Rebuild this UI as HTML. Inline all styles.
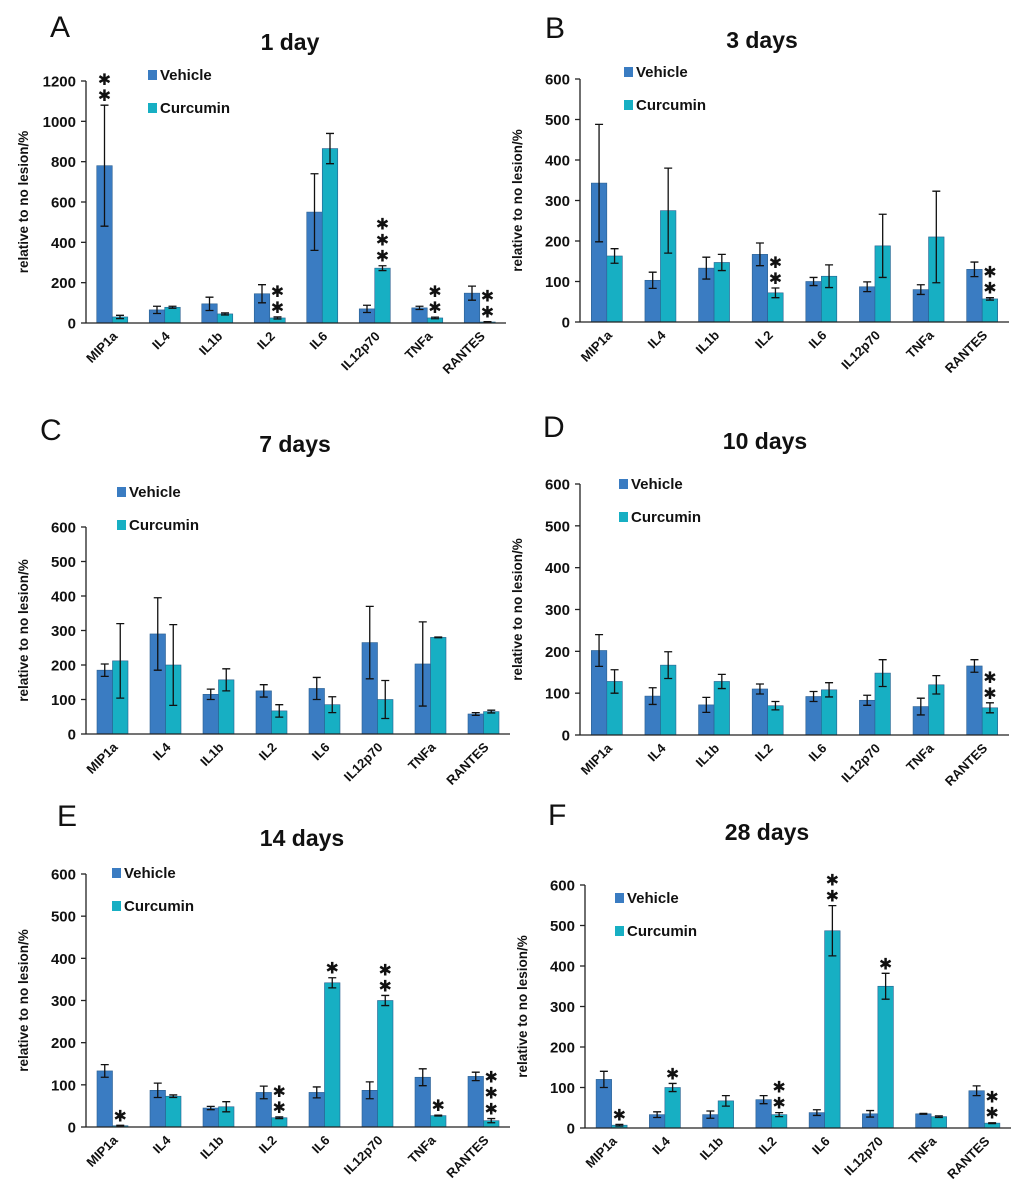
<!DOCTYPE html>
<html><head><meta charset="utf-8"><style>
html,body{margin:0;padding:0;background:#fff;}
svg{display:block;font-family:"Liberation Sans",Arial,sans-serif;}
</style></head><body>
<svg id="fig" width="1024" height="1200" viewBox="0 0 1024 1200"></svg>
<script>
const categories = ["MIP1a","IL4","IL1b","IL2","IL6","IL12p70","TNFa","RANTES"];
// Panel A – 1 day
const vehA = [780,65,95,145,550,70,75,148];
const vehErrA = [300,18,33,45,190,18,8,35];
const curA = [30,78,45,25,865,272,25,5];
const curErrA = [8,5,5,5,75,12,4,2];
const vStarsA = [2,0,0,0,0,0,0,0];
const cStarsA = [0,0,0,2,0,3,2,2];
// Panel B – 3 days
const vehB = [343,103,133,167,100,87,80,130];
const vehErrB = [145,20,27,28,10,12,12,18];
const curB = [163,275,147,72,113,188,210,57];
const curErrB = [18,105,20,12,28,78,113,3];
const vStarsB = [0,0,0,0,0,0,0,0];
const cStarsB = [0,0,0,2,0,0,0,2];
// Panel C – 7 days
const vehC = [185,290,115,125,132,265,203,58];
const vehErrC = [18,105,15,18,32,105,122,4];
const curC = [212,200,157,67,85,100,280,65];
const curErrC = [108,117,32,18,23,55,1,4];
const vStarsC = [0,0,0,0,0,0,0,0];
const cStarsC = [0,0,0,0,0,0,0,0];
// Panel D – 10 days
const vehD = [202,93,72,110,92,83,68,165];
const vehErrD = [38,20,18,12,12,12,20,15];
const curD = [128,167,128,70,108,148,120,65];
const curErrD = [28,32,17,10,17,32,22,12];
const vStarsD = [0,0,0,0,0,0,0,0];
const cStarsD = [0,0,0,0,0,0,0,2];
// Panel E – 14 days
const vehE = [133,87,45,82,82,87,118,120];
const vehErrE = [15,17,4,15,13,20,20,10];
const curE = [3,73,48,22,342,300,27,15];
const curErrE = [1,3,12,2,12,12,1,5];
const vStarsE = [0,0,0,0,0,0,0,0];
const cStarsE = [1,0,0,2,1,2,1,3];
// Panel F – 28 days
const vehF = [120,33,33,70,38,35,35,92];
const vehErrF = [20,7,9,10,7,8,1,12];
const curF = [7,100,67,33,487,350,28,12];
const curErrF = [2,10,13,5,62,32,2,1];
const vStarsF = [0,0,0,0,0,0,0,0];
const cStarsF = [1,1,0,2,2,1,0,2];
const ticksA = [0,200,400,600,800,1000,1200];
const ticks600 = [0,100,200,300,400,500,600];

const NS="http://www.w3.org/2000/svg";
const svg=document.getElementById('fig');
function el(tag,attrs,parent,text){
  const e=document.createElementNS(NS,tag);
  for(const k in attrs) e.setAttribute(k,attrs[k]);
  if(text!==undefined) e.textContent=text;
  (parent||svg).appendChild(e);
  return e;
}
const VCOL="#3a7cc2", CCOL="#17afc3";

const panels=[
 {id:"a",letter:"A",title:"1 day",lx:50,ly:37,tx:290,ty:50,x0:86,x1:506,y0:323,yT:81,max:1200,ticks:ticksA,leg:[148,70],vw:15.5,
  veh:vehA,ve:vehErrA,cur:curA,ce:curErrA,vs:vStarsA,cs:cStarsA},
 {id:"b",letter:"B",title:"3 days",lx:545,ly:38,tx:762,ty:48,x0:580,x1:1009,y0:322,yT:79,max:600,ticks:ticks600,leg:[624,67],vw:15.5,
  veh:vehB,ve:vehErrB,cur:curB,ce:curErrB,vs:vStarsB,cs:cStarsB},
 {id:"c",letter:"C",title:"7 days",lx:40,ly:440,tx:295,ty:452,x0:86,x1:510,y0:734,yT:527,max:600,ticks:ticks600,leg:[117,487],vw:15.5,
  veh:vehC,ve:vehErrC,cur:curC,ce:curErrC,vs:vStarsC,cs:cStarsC},
 {id:"d",letter:"D",title:"10 days",lx:543,ly:437,tx:765,ty:449,x0:580,x1:1009,y0:735,yT:484,max:600,ticks:ticks600,leg:[619,479],vw:15.5,
  veh:vehD,ve:vehErrD,cur:curD,ce:curErrD,vs:vStarsD,cs:cStarsD},
 {id:"e",letter:"E",title:"14 days",lx:57,ly:826,tx:302,ty:846,x0:86,x1:510,y0:1127,yT:874,max:600,ticks:ticks600,leg:[112,868],vw:15.5,
  veh:vehE,ve:vehErrE,cur:curE,ce:curErrE,vs:vStarsE,cs:cStarsE},
 {id:"f",letter:"F",title:"28 days",lx:548,ly:825,tx:767,ty:840,x0:585,x1:1011,y0:1128,yT:885,max:600,ticks:ticks600,leg:[615,893],vw:15.5,
  veh:vehF,ve:vehErrF,cur:curF,ce:curErrF,vs:vStarsF,cs:cStarsF}
];

panels.forEach(p=>{
  const g=el('g',{});
  
  
  const yS=v=>p.y0-(v/p.max)*(p.y0-p.yT);
  const slot=(p.x1-p.x0)/categories.length;
  const cx=i=>p.x0+slot*(i+0.5);
  const L=el('text',{x:p.lx,y:p.ly,'font-size':30,fill:'#111'},g,p.letter);
  
  
  const T=el('text',{x:p.tx,y:p.ty,'font-size':23,'font-weight':'bold','text-anchor':'middle',fill:'#111'},g,p.title);
  
  
  const ya=el('line',{x1:p.x0,y1:p.yT,x2:p.x0,y2:p.y0,stroke:'#222','stroke-width':1.3},g);
  
  
  p.ticks.forEach(t=>{
    el('line',{x1:p.x0-5,y1:yS(t),x2:p.x0,y2:yS(t),stroke:'#222','stroke-width':1.3},g);
    const tl=el('text',{x:p.x0-10,y:yS(t)+5.5,'font-size':15,'font-weight':'bold','text-anchor':'end',fill:'#111'},g,String(t));
    
    
  });
  const ymid=(p.y0+p.yT)/2;
  const yt=el('text',{x:0,y:0,'font-size':13.5,'font-weight':'bold','text-anchor':'middle',fill:'#111',
    transform:`translate(${p.x0-58},${ymid}) rotate(-90)`},g,'relative to no lesion/%');
  
  
  categories.forEach((c,i)=>{
    const xc=cx(i), w=p.vw;
    const series=[[p.veh[i],p.ve[i],xc-w,VCOL,'vehicle',p.vs[i]],[p.cur[i],p.ce[i],xc,CCOL,'curcumin',p.cs[i]]];
    series.forEach(s=>{
      const [v,e,x,col,nm,st]=s;
      const r=el('rect',{x:x,y:yS(v),width:w,height:p.y0-yS(v),fill:col,stroke:'#2a5f90','stroke-width':0.6},g);
      
      
      const m=x+w/2, top=yS(v+e), bot=yS(Math.max(0,v-e));
      const eb=el('path',{d:`M${m},${top}V${bot}M${m-4},${top}H${m+4}M${m-4},${bot}H${m+4}`,stroke:'#111','stroke-width':1.3,fill:'none'},g);
      
      
      for(let k=0;k<st;k++){
        const sy=top-10-k*16;
        const s1=el('text',{x:m,y:sy+6,'font-size':16,'font-weight':'bold','text-anchor':'middle',fill:'#111','font-family':'DejaVu Sans, sans-serif'},g,'✱');
        
        
      }
    });
    const xl=el('text',{x:0,y:0,'font-size':13,'font-weight':'bold','text-anchor':'end',fill:'#111',
      transform:`translate(${xc+6},${p.y0+14}) rotate(-45)`},g,c);
    
    
  });
  const xa=el('line',{x1:p.x0,y1:p.y0,x2:p.x1,y2:p.y0,stroke:'#222','stroke-width':1.3},g);
  
  
  const [lx,ly]=p.leg;
  [["Vehicle",VCOL,0],["Curcumin",CCOL,33]].forEach(l=>{
    const lg=el('g',{},g);
    
    
    el('rect',{x:lx,y:ly+l[2],width:9,height:10,fill:l[1]},lg);
    el('text',{x:lx+12,y:ly+l[2]+10,'font-size':15,'font-weight':'bold',fill:'#111'},lg,l[0]);
  });
});
</script>
</body></html>
